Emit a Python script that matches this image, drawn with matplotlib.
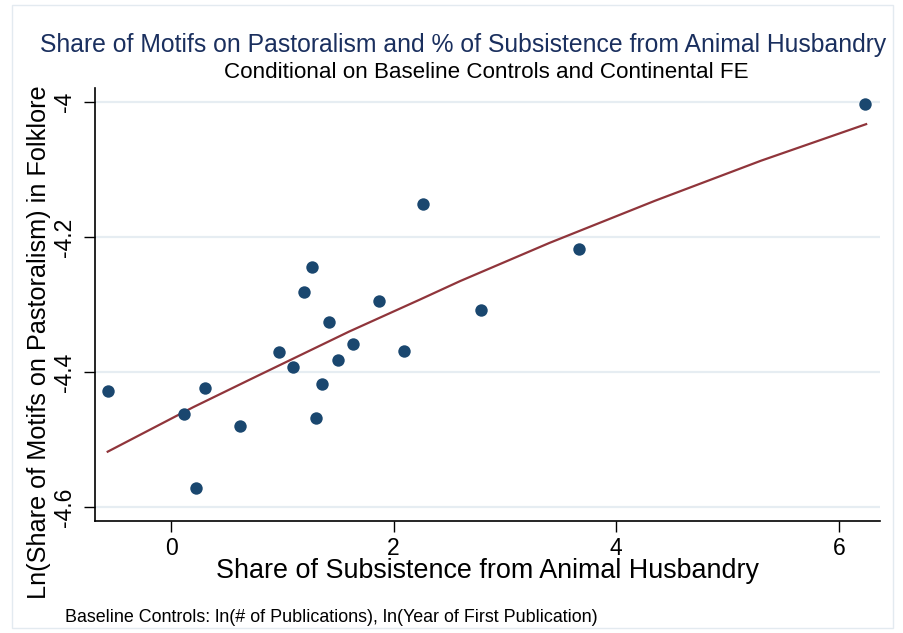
import matplotlib
matplotlib.use('Agg')
import matplotlib.pyplot as plt
from matplotlib.patches import Rectangle

plt.rcParams['font.family'] = ['Liberation Sans', 'DejaVu Sans']

# binned scatter points
share_husb = [-0.563, 0.117, 0.225, 0.303, 0.623, 0.967, 1.093, 1.195, 1.267, 1.303,
              1.360, 1.423, 1.504, 1.632, 1.869, 2.091, 2.268, 2.785, 3.666, 6.238]
ln_motifs = [-4.4286, -4.4627, -4.5723, -4.4242, -4.480, -4.3699, -4.3926, -4.2820, -4.2444, -4.4686,
             -4.4183, -4.3259, -4.3827, -4.3580, -4.2953, -4.3684, -4.1511, -4.3081, -4.2178, -4.002]

# fitted line
fit_x = [-0.569, 0.2, 0.710, 1.6, 2.237, 2.597, 3.4, 4.350, 5.3, 6.245]
fit_y = [-4.518, -4.452, -4.411, -4.340, -4.2925, -4.2652, -4.2086, -4.1460, -4.0868, -4.0326]

yticks = [-4.6, -4.4, -4.2, -4.0]
ylabels = ['-4.6', '-4.4', '-4.2', '-4']
xticks = [0, 2, 4, 6]

fig = plt.figure(figsize=(9.04, 6.33), dpi=100)
ax = fig.add_axes([0.1051, 0.1774, 0.8684, 0.6836])

for yv in yticks:
    ax.axhline(yv, color='#e6edf2', lw=1.6, zorder=0)

ax.scatter(share_husb, ln_motifs, s=80, color='#1a476f', zorder=3, linewidths=0)
ax.plot(fit_x, fit_y, color='#90353b', lw=1.6, zorder=2)

ax.set_xlim(-0.683, 6.37)
ax.set_ylim(-4.6203, -3.979)
ax.set_xticks(xticks)
ax.set_xticklabels([str(v) for v in xticks], fontsize=16.5)
ax.set_yticks(yticks)
ax.set_yticklabels(ylabels, fontsize=16.5, rotation=90, va='center')
ax.tick_params(axis='both', direction='out', length=8, width=1, color='black')
ax.tick_params(axis='x', pad=4)
ax.tick_params(axis='y', pad=6)

for s in ['top', 'right']:
    ax.spines[s].set_visible(False)
for s in ['left', 'bottom']:
    ax.spines[s].set_linewidth(1.2)

ax.set_xlabel('Share of Subsistence from Animal Husbandry', fontsize=19.4, labelpad=-1.5)
ax.set_ylabel('Ln(Share of Motifs on Pastoralism) in Folklore', fontsize=18.2)
ax.yaxis.set_label_coords(-0.056, 0.413)

fig.text(0.512, 0.929, 'Share of Motifs on Pastoralism and % of Subsistence from Animal Husbandry',
         ha='center', va='center', fontsize=17.8, color='#1a2f5e')
fig.text(0.5376, 0.885, 'Conditional on Baseline Controls and Continental FE',
         ha='center', va='center', fontsize=16.1, color='black')
fig.text(0.072, 0.025, 'Baseline Controls: ln(# of Publications), ln(Year of First Publication)',
         ha='left', va='center', fontsize=12.9, color='black')

fig.patches.append(Rectangle((12 / 904, 5 / 633), 881 / 904, 623 / 633, transform=fig.transFigure,
                             fill=False, edgecolor='#e3eaf0', lw=1))

fig.savefig('out.png', dpi=100)
